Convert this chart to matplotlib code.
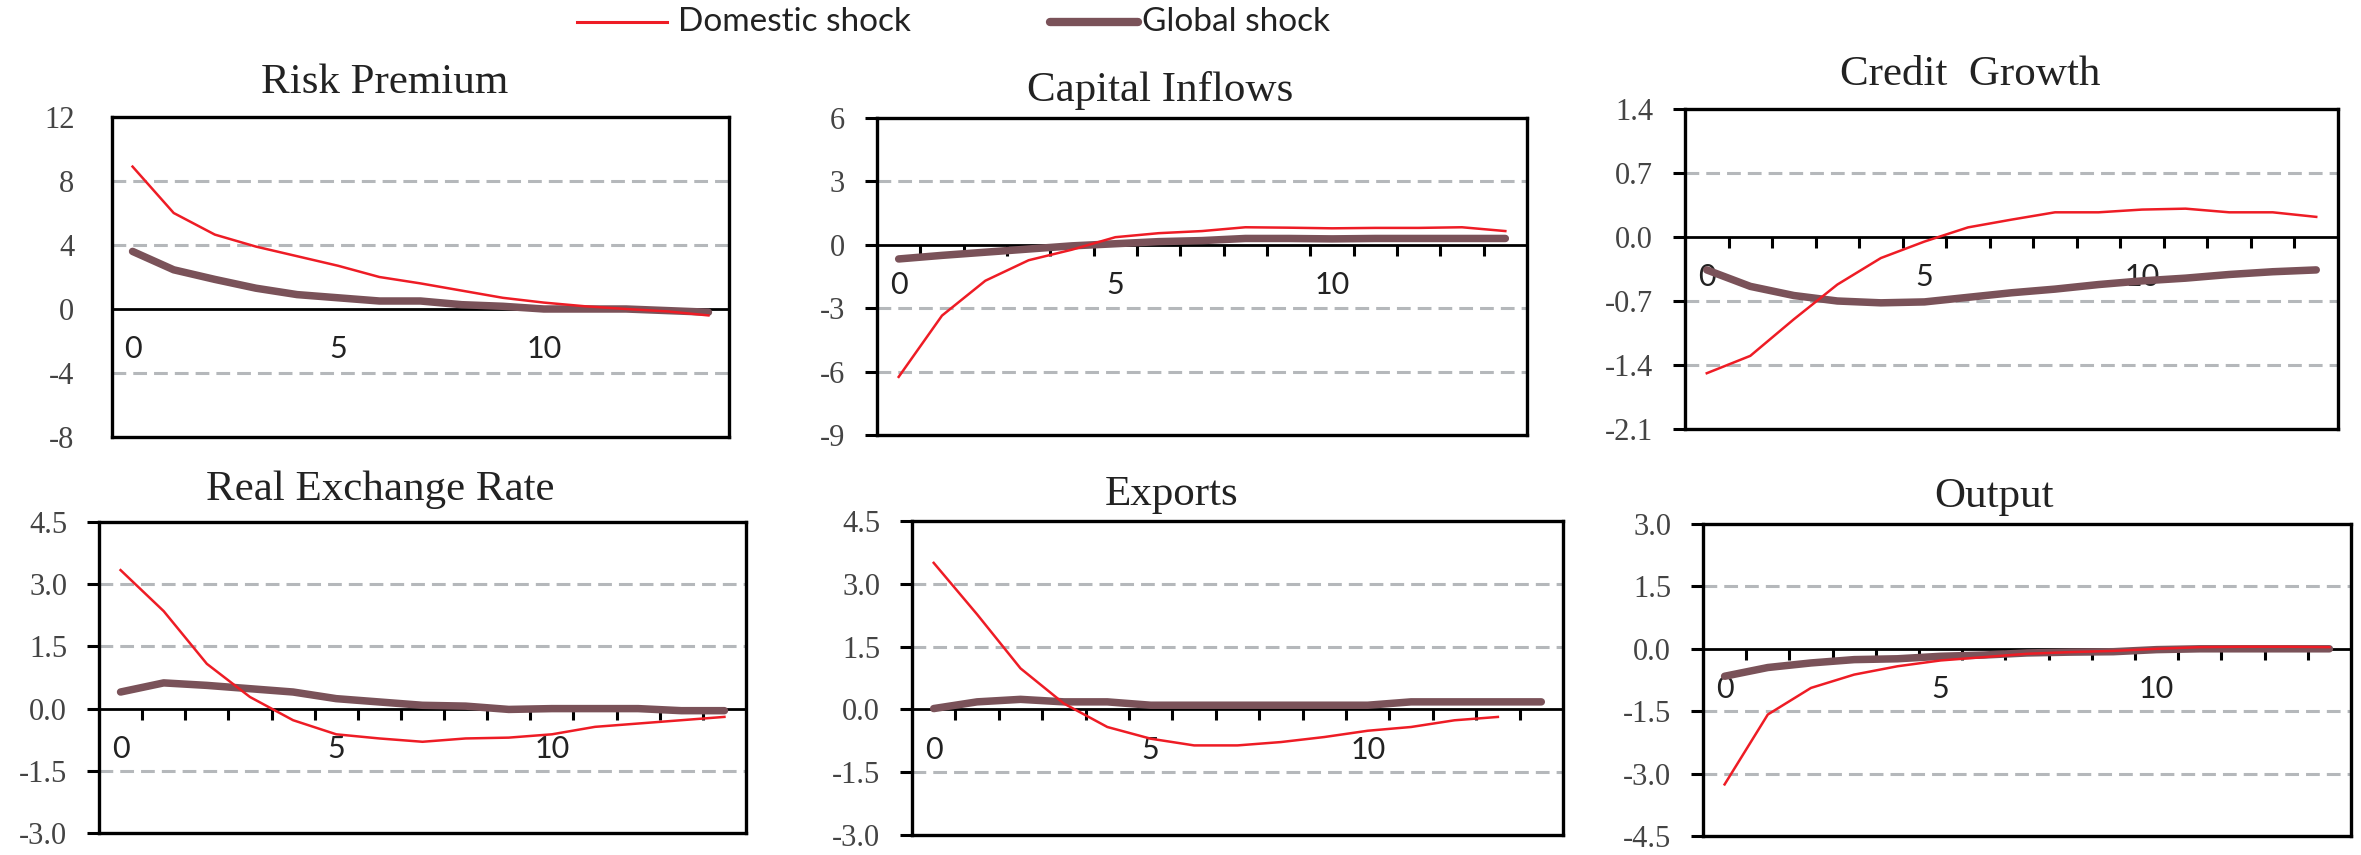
import matplotlib
matplotlib.use('Agg')
import matplotlib.pyplot as plt
from matplotlib.lines import Line2D

# Impulse responses, periods 0..14
periods = list(range(15))

risk_dom = [8.9, 6.0, 4.65, 3.9, 3.3, 2.7, 2.0, 1.6, 1.15, 0.7, 0.4, 0.17, 0.0, -0.15, -0.4]
risk_glb = [3.6, 2.45, 1.85, 1.3, 0.9, 0.7, 0.5, 0.5, 0.27, 0.17, 0.0, 0.0, 0.0, -0.1, -0.2]

cap_dom = [-6.25, -3.35, -1.7, -0.73, -0.23, 0.36, 0.55, 0.65, 0.83, 0.81, 0.78, 0.8, 0.8, 0.83, 0.65]
cap_glb = [-0.67, -0.5, -0.35, -0.2, -0.05, 0.05, 0.15, 0.2, 0.3, 0.3, 0.28, 0.3, 0.3, 0.3, 0.3]

cred_dom = [-1.49, -1.30, -0.90, -0.52, -0.23, -0.05, 0.105, 0.19, 0.27, 0.27, 0.30, 0.31, 0.27, 0.27, 0.22]
cred_glb = [-0.36, -0.54, -0.64, -0.70, -0.72, -0.71, -0.66, -0.61, -0.57, -0.52, -0.48, -0.45, -0.41, -0.38, -0.36]

rer_dom = [3.34, 2.35, 1.08, 0.28, -0.28, -0.62, -0.72, -0.80, -0.72, -0.70, -0.62, -0.44, -0.36, -0.28, -0.2]
rer_glb = [0.4, 0.62, 0.56, 0.48, 0.4, 0.24, 0.16, 0.08, 0.06, -0.02, 0.0, 0.0, 0.0, -0.05, -0.05]

exp_dom = [3.5, 2.27, 0.98, 0.14, -0.42, -0.70, -0.86, -0.86, -0.78, -0.66, -0.51, -0.42, -0.26, -0.18]
exp_glb = [0.02, 0.18, 0.24, 0.18, 0.18, 0.1, 0.1, 0.1, 0.1, 0.1, 0.1, 0.18, 0.18, 0.18, 0.18]

out_dom = [-3.26, -1.58, -0.94, -0.62, -0.42, -0.28, -0.2, -0.12, -0.08, -0.05, 0.0, 0.04, 0.05, 0.05, 0.04]
out_glb = [-0.66, -0.45, -0.34, -0.26, -0.24, -0.18, -0.15, -0.1, -0.08, -0.07, -0.02, 0.0, 0.0, 0.0, 0.0]

titles = ["Risk Premium", "Capital Inflows", "Credit  Growth",
          "Real Exchange Rate", "Exports", "Output"]
yticks = [[-8, -4, 0, 4, 8, 12],
          [-9, -6, -3, 0, 3, 6],
          [-2.1, -1.4, -0.7, 0.0, 0.7, 1.4],
          [-3.0, -1.5, 0.0, 1.5, 3.0, 4.5],
          [-3.0, -1.5, 0.0, 1.5, 3.0, 4.5],
          [-4.5, -3.0, -1.5, 0.0, 1.5, 3.0]]
ylabel_fmt = ["{:.0f}", "{:.0f}", "{:.1f}", "{:.1f}", "{:.1f}", "{:.1f}"]
domestic = [risk_dom, cap_dom, cred_dom, rer_dom, exp_dom, out_dom]
global_ = [risk_glb, cap_glb, cred_glb, rer_glb, exp_glb, out_glb]

RED = '#ee1c25'
MAUVE = '#7a5259'
GRID = '#b5b8bb'
SERIF = ['Liberation Serif', 'DejaVu Serif']
SANS = ['Lato', 'DejaVu Sans']

W, H = 2361, 855
fig = plt.figure(figsize=(W / 100, H / 100), dpi=100)
fig.patch.set_facecolor('white')

# axes boxes in pixels: left, right, top, bottom
boxes = [(112, 729, 117, 437), (877, 1527, 118, 435), (1685, 2338, 109, 429),
         (99, 746, 522, 833), (912, 1563, 521, 835), (1703, 2351, 524, 836)]
title_pos = [(385, 83), (1160, 90), (1970, 75), (380, 490), (1172, 495), (1994, 497)]
show_ticks = [False, True, True, True, True, True]

for i in range(6):
    l, r, t, b = boxes[i]
    ax = fig.add_axes([l / W, 1 - b / H, (r - l) / W, (b - t) / H])
    yt = yticks[i]
    ax.set_ylim(yt[0], yt[-1])
    ax.set_xlim(-0.5, 14.5)

    # dashed gridlines at the y ticks
    for v in yt[1:-1]:
        if abs(v) > 1e-9:
            ax.axhline(v, color=GRID, lw=2.2, dashes=(4.5, 2.3), zorder=1)

    ax.plot(periods[:len(global_[i])], global_[i], color=MAUVE, lw=5.4,
            solid_capstyle='round', zorder=3)
    ax.plot(periods[:len(domestic[i])], domestic[i], color=RED, lw=1.8, zorder=4)

    # box frame
    for s in ['top', 'left', 'right']:
        ax.spines[s].set_linewidth(2.4)
        ax.spines[s].set_color('black')
    ax.spines['bottom'].set_position(('data', 0))
    ax.spines['bottom'].set_linewidth(2.0)
    ax.axhline(yt[0], color='black', lw=2.4, clip_on=False, zorder=5)

    # category axis crossing at zero
    ax.set_xticks([0, 5, 10])
    ax.set_xticklabels(['0', '5', '10'], family=SANS, fontsize=22, color='#222222')
    ax.tick_params(axis='x', which='major', length=0, pad=19)
    if show_ticks[i]:
        ax.set_xticks([k + 0.5 for k in range(14)], minor=True)
        ax.tick_params(axis='x', which='minor', length=8, width=2.2,
                       direction='out', color='black')

    ax.set_yticks(yt)
    ax.set_yticklabels([ylabel_fmt[i].format(v) for v in yt], family=SERIF,
                       fontsize=22, color='#444444')
    if show_ticks[i]:
        ax.tick_params(axis='y', length=9, width=2.2, pad=14)
    else:
        ax.tick_params(axis='y', length=0, pad=27)

    tx, ty = title_pos[i]
    fig.text(tx / W, 1 - ty / H, titles[i], family=SERIF, fontsize=31,
             color='#222222', ha='center', va='center')

# legend across the top
fig.add_artist(Line2D([577 / W, 667 / W], [1 - 22 / H] * 2, color=RED, lw=2.2))
fig.text(678 / W, 1 - 22 / H, "Domestic shock", family=SANS, fontsize=24,
         color='#222222', ha='left', va='center')
fig.add_artist(Line2D([1050 / W, 1138 / W], [1 - 22 / H] * 2, color=MAUVE, lw=6,
                      solid_capstyle='round'))
fig.text(1142 / W, 1 - 22 / H, "Global shock", family=SANS, fontsize=24,
         color='#222222', ha='left', va='center')

plt.savefig('out.png', dpi=100, facecolor='white')
plt.close()
